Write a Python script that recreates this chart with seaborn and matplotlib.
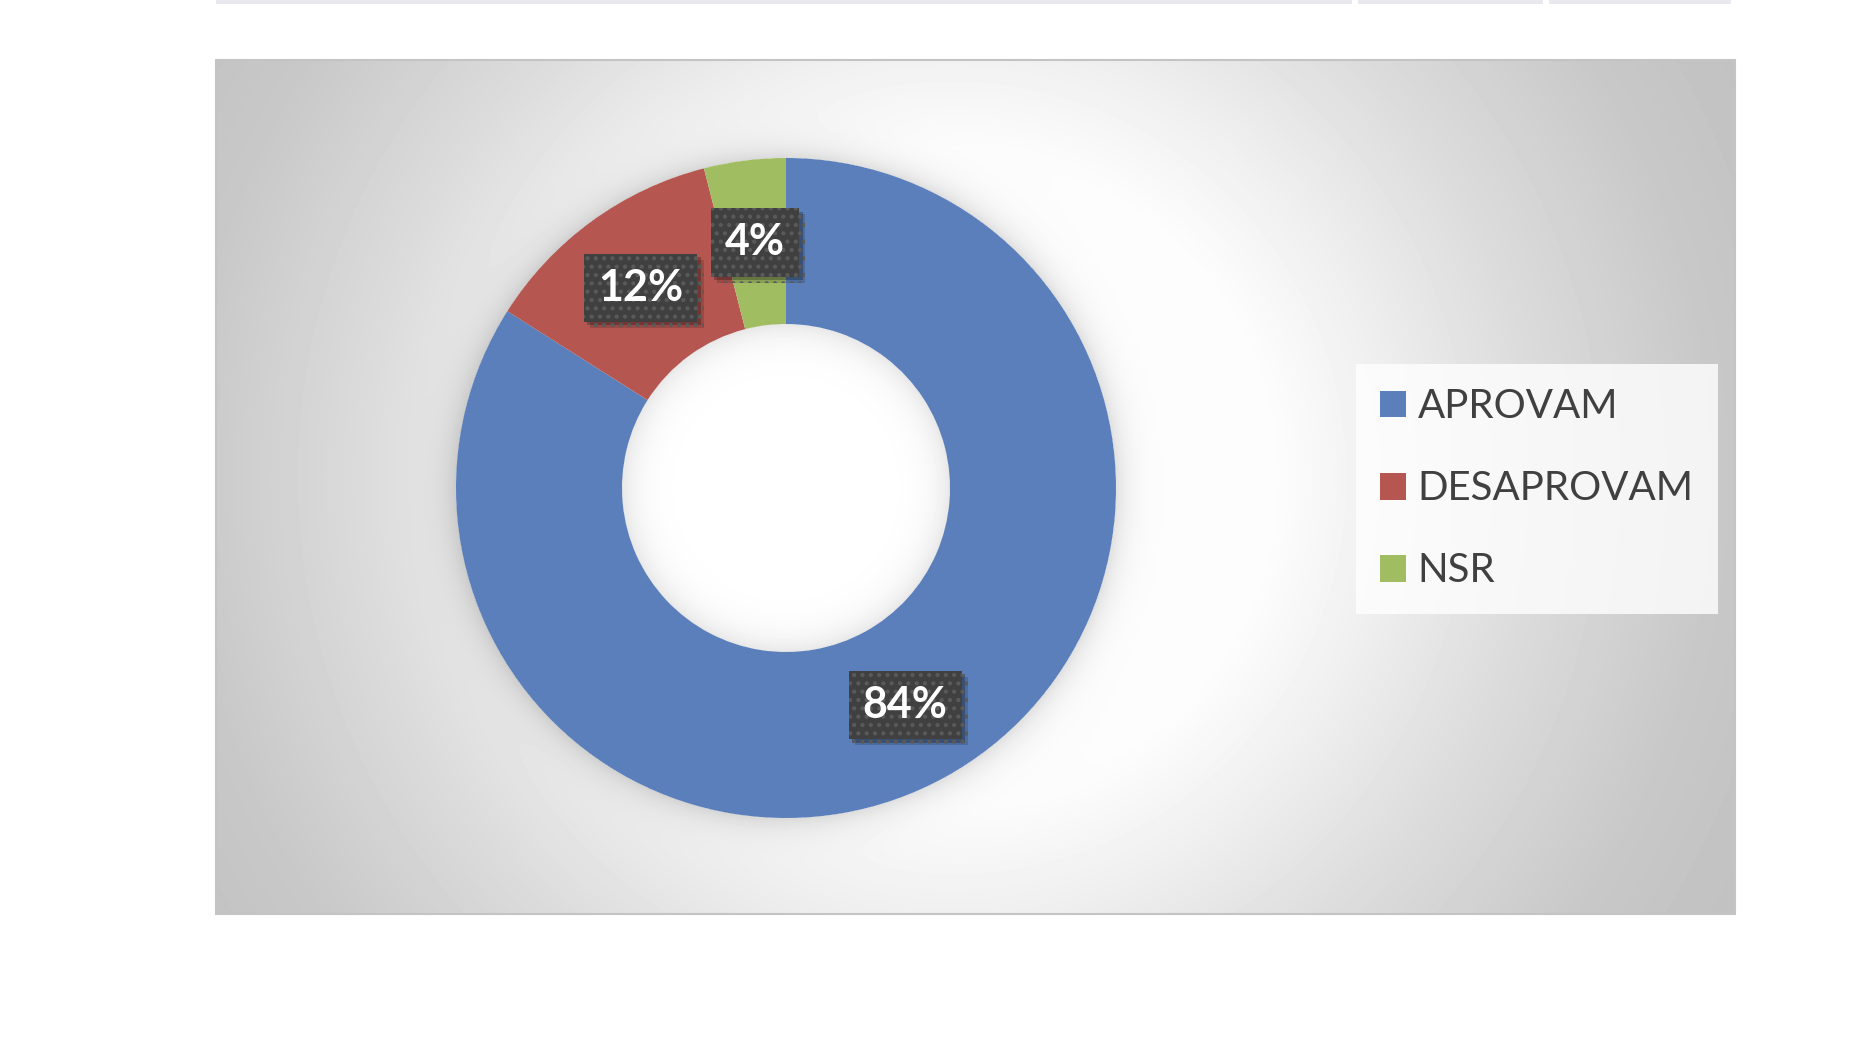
# Rosquinha: aprovacao (APROVAM / DESAPROVAM / NSR)
import numpy as np
import matplotlib.pyplot as plt
import matplotlib.patheffects as pe
from matplotlib.patches import Rectangle
import seaborn as sns

categorias = ['APROVAM', 'DESAPROVAM', 'NSR']
percentuais = [84, 12, 4]
cores = sns.color_palette(['#5B7FBA', '#B65650', '#A0BD62'])

sns.set_theme(style='white')
plt.rcParams['font.family'] = ['Lato', 'DejaVu Sans']
plt.rcParams['hatch.color'] = '#5a5a5a'
plt.rcParams['hatch.linewidth'] = 1.8

W, H = 1873, 1052
fig = plt.figure(figsize=(18.73, 10.52), dpi=100)
ax = fig.add_axes([0, 0, 1, 1])

# area do grafico (pixels)
x0, x1, y0, y1 = 216, 1735, 60, 914
cx, cy, R, Ri = 786, 488, 330, 164

# fundo com gradiente radial + sombra da rosquinha
xs = np.arange(x0, x1) + 0.5
ys = np.arange(y0, y1) + 0.5
X, Y = np.meshgrid(xs, ys)
r = np.hypot(X - 950, Y - 478)
fundo = np.interp(r, [0, 330, 430, 580, 764, 900], [255, 252, 240, 220, 200, 193])
d = np.hypot(X - cx, Y - cy)
fundo = np.where(d > R, fundo - 30 * np.exp(-(d - R) / 14), fundo)
fundo = np.where(d < Ri, 255 - 24 * np.exp(-(Ri - d) / 16), fundo)
img = np.clip(fundo, 0, 255) / 255
ax.imshow(img, cmap='gray', vmin=0, vmax=1, extent=(x0, x1, H - y1, H - y0),
          interpolation='bilinear', zorder=0)
ax.add_patch(Rectangle((x0, H - y1), x1 - x0, y1 - y0, fill=False,
                       ec='#c4c4c4', lw=1.5, zorder=0.5))

wedges, texts, autotexts = ax.pie(
    percentuais, colors=cores, startangle=90, counterclock=False,
    radius=R, center=(cx, H - cy), autopct='%1.0f%%', pctdistance=0.75,
    wedgeprops=dict(width=R - Ri, linewidth=0))

for t in autotexts:
    t.set(color='white', fontsize=31, fontweight='bold')
    t.set_bbox(dict(boxstyle='square,pad=0.33', fc='#404040', ec='#5a5a5a',
                    lw=0, hatch='..'))
    # sombra da caixa
    t.get_bbox_patch().set_path_effects([
        pe.SimplePatchShadow(offset=(4.5, -4.5), shadow_rgbFace='black', alpha=0.15),
        pe.SimplePatchShadow(offset=(2.5, -2.5), shadow_rgbFace='black', alpha=0.25),
        pe.Normal()])

ax.set_xlim(0, W)
ax.set_ylim(0, H)
ax.set_aspect('equal')
ax.axis('off')

leg = ax.legend(wedges, categorias, loc='upper left',
                bbox_to_anchor=(1356 / W, 1 - 364 / H), bbox_transform=fig.transFigure,
                frameon=True, fancybox=False, prop=dict(family='Lato', size=29),
                handlelength=0.65, handleheight=0.65, handletextpad=0.28,
                labelspacing=1.12, borderpad=0.6, borderaxespad=0, labelcolor='#404040')
leg.get_frame().set_facecolor((1, 1, 1, 0.15))
leg.get_frame().set_edgecolor('none')

# faixas cinzas no topo (resto da tabela)
for a, b in [(216, 1352), (1358, 1543), (1549, 1731)]:
    fig.add_artist(Rectangle((a / W, 1 - 4 / H), (b - a) / W, 4 / H,
                             transform=fig.transFigure, fc='#e9e8ee', ec='none'))

fig.savefig('out.png', dpi=100)
